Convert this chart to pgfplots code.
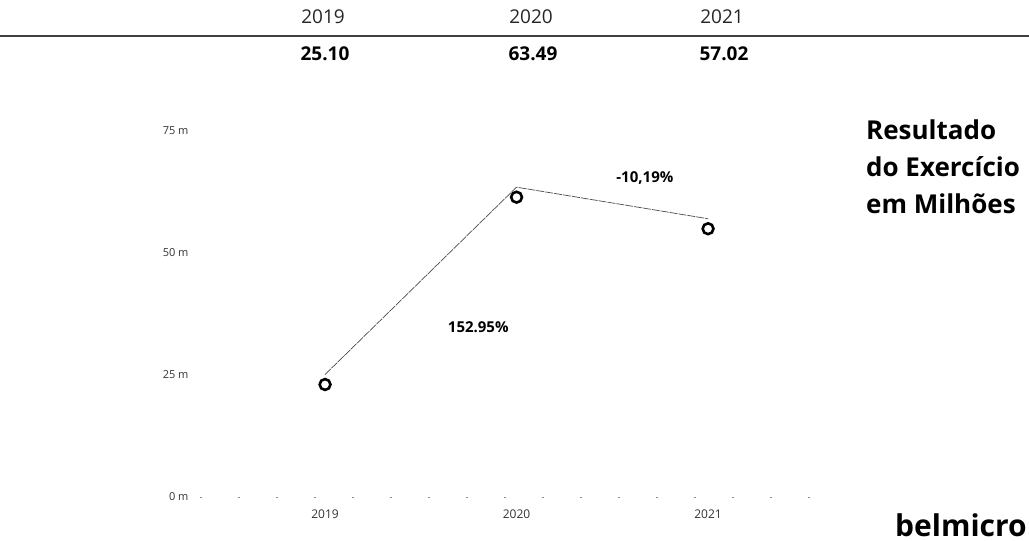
\documentclass[border=0pt]{standalone}
\usepackage{pgfplots}
\pgfplotsset{compat=1.18}
\usepackage{fontspec}
\setmainfont{Open Sans}

\begin{document}
\begin{tikzpicture}[x=1pt,y=1pt]
\clip (0,0) rectangle (1029,541);
\fill[white] (0,0) rectangle (1029,541);

% header strip
\draw[black!75, line width=1.2pt] (0,505) -- (1029,505);
\foreach \xx/\yr/\val in {323/2019/25.10, 531/2020/63.49, 722/2021/57.02}{
  \node[font=\fontsize{19}{21}\selectfont, text=black!85] at (\xx,524) {\yr};
  \node[font=\fontsize{19}{21}\selectfont\bfseries] at (\xx+2,487) {\val};
}

% title on the right
\foreach \yy/\txt in {401/Resultado, 364/do Exercício, 327/em Milhões}{
  \node[anchor=base west, inner sep=0pt, font=\fontsize{26}{30}\selectfont\bfseries] at (866,\yy) {\txt};
}
\node[anchor=base west, inner sep=0pt, font=\fontsize{30}{32}\selectfont\bfseries] at (895,4) {belmicro};

\begin{axis}[
  scale only axis,
  at={(200pt,44pt)}, anchor=south west,
  width=640pt, height=366pt,
  xmin=-0.653, xmax=2.689,
  ymin=0, ymax=75,
  xtick={0,1,2}, xticklabels={2019,2020,2021},
  ytick=\empty,
  /pgf/number format/assume math mode=true,
  axis y line=none,
  axis x line=bottom,
  x axis line style={-, draw=black!45, line width=0.8pt, dash pattern=on 2pt off 36pt},
  major tick length=0pt,
  ticklabel style={font=\fontsize{12}{14}\selectfont, text=black!80},
  xticklabel style={yshift=-9pt},
  clip=false,
]
\addplot[black!70, line width=0.7pt, dash pattern=on 8pt off 1pt,
  mark=o, mark options={solid, draw=black, line width=2.6pt, yshift=-10pt},
  mark size=5.4pt]
  coordinates {(0,25.10) (1,63.49) (2,57.02)};
\node[font=\fontsize{15}{17}\selectfont\bfseries] at (axis cs:0.80,34.8) {152.95\%};
\node[font=\fontsize{15}{17}\selectfont\bfseries] at (axis cs:1.67,65.4) {-10,19\%};
\end{axis}

% y labels beside the hidden y axis
\foreach \v/\lab in {0/0 m,25/25 m,50/50 m,75/75 m}{
  \node[anchor=east, font=\fontsize{11}{13}\selectfont, text=black!80] at (192,{44+\v*4.88}) {\lab};
}
\end{tikzpicture}
\end{document}
